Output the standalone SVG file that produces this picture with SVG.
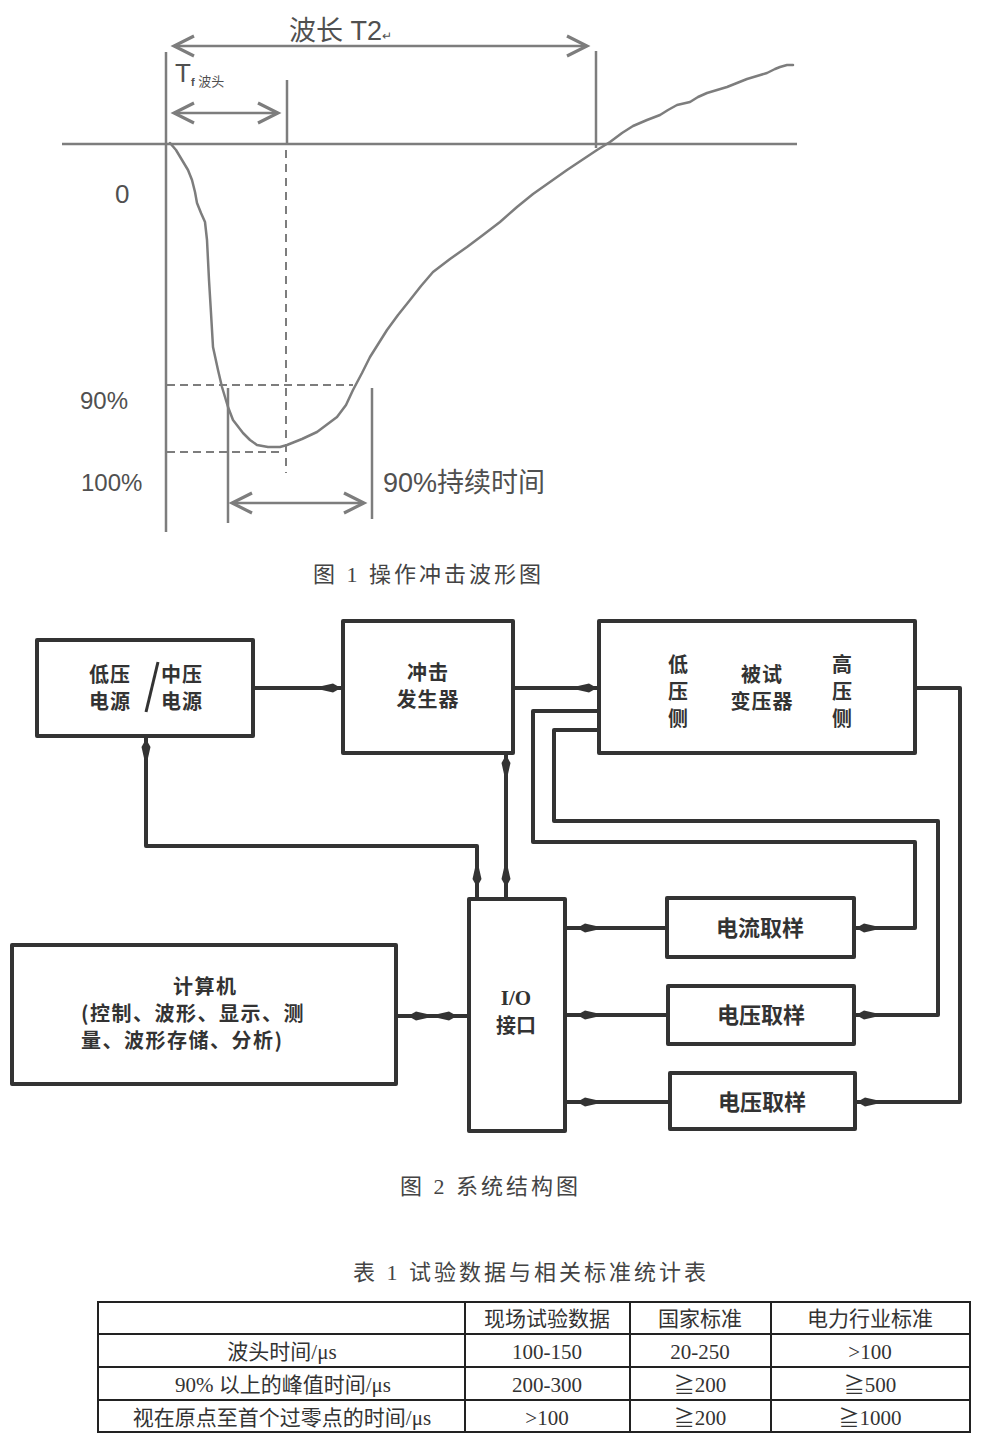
<svg xmlns="http://www.w3.org/2000/svg" width="984" height="1446" viewBox="0 0 984 1446">
<defs>
<style>
.g{stroke:#7d7d7d;stroke-width:2.5;fill:none}
.gd{stroke:#7d7d7d;stroke-width:2;fill:none;stroke-dasharray:8 5}
.wt{font-family:"Liberation Sans","Noto Sans CJK SC",sans-serif;fill:#505050}
.cap{font-family:"Liberation Serif","Noto Sans CJK SC",serif;font-size:22px;fill:#444;letter-spacing:3px}
.box{fill:#fff;stroke:#333;stroke-width:4;stroke-linejoin:round}
.bt{font-family:"Noto Sans CJK SC",sans-serif;font-weight:bold;font-size:20px;fill:#333;text-anchor:middle}
.bs{font-family:"Noto Sans CJK SC",sans-serif;font-weight:bold;font-size:22px;fill:#333;text-anchor:middle}
.bl{font-family:"Noto Sans CJK SC",sans-serif;font-weight:bold;font-size:20px;fill:#333;text-anchor:start;letter-spacing:1.5px}
.w{fill:none;stroke:#333;stroke-width:4;stroke-linejoin:round}
.tb{stroke:#222;stroke-width:2;fill:none}
.tt{font-family:"Liberation Serif","Noto Sans CJK SC",serif;font-size:21px;fill:#333;text-anchor:middle}
</style>
<marker id="c" markerUnits="userSpaceOnUse" markerWidth="30" markerHeight="30" viewBox="-20 -10 24 20" refX="0" refY="0" orient="auto-start-reverse">
<path d="M-16,-8 L0,0 L-16,8" fill="none" stroke="#7d7d7d" stroke-width="2.5"/>
</marker>
<marker id="a" markerUnits="userSpaceOnUse" markerWidth="40" markerHeight="20" viewBox="-40 -10 40 20" refX="0" refY="0" orient="auto-start-reverse">
<path d="M-2,0 L-10,-4.5 L-21,-2 L-21,2 L-10,4.5 Z" fill="#333"/>
</marker>
<marker id="b" markerUnits="userSpaceOnUse" markerWidth="50" markerHeight="20" viewBox="-50 -10 50 20" refX="0" refY="0" orient="auto-start-reverse">
<path d="M-12,0 L-20,-4.5 L-31,-2 L-31,2 L-20,4.5 Z" fill="#333"/>
</marker>
</defs>

<g id="waveform">
<line class="g" x1="62" y1="144" x2="797" y2="144"/>
<line class="g" x1="166" y1="52" x2="166" y2="532"/>
<line class="g" x1="596" y1="51" x2="596" y2="148"/>
<line class="g" x1="287" y1="80" x2="287" y2="145"/>
<line class="g" x1="174" y1="46" x2="587" y2="46" marker-start="url(#c)" marker-end="url(#c)"/>
<line class="g" x1="174" y1="113" x2="278" y2="113" marker-start="url(#c)" marker-end="url(#c)"/>
<line class="gd" x1="286" y1="150" x2="286" y2="473" style="stroke-dasharray:8 6"/>
<line class="gd" x1="167" y1="385" x2="353" y2="385"/>
<line class="gd" x1="167" y1="452" x2="283" y2="452"/>
<line class="g" x1="228" y1="388" x2="228" y2="523"/>
<line class="g" x1="372" y1="388" x2="372" y2="519"/>
<line class="g" x1="232" y1="503" x2="364" y2="503" marker-start="url(#c)" marker-end="url(#c)"/>
<polyline class="g" stroke-linejoin="round" stroke-linecap="round" points="170,143 176,150 182,160 188,170 192,180 195,192 197,203 201,213 205,222 207,240 208,260 209,280 211,313 213,347 218,370 222,387 228,407 233,420 243,433 250,440 257,445 268,447 280,447 287,445 302,439 317,432 337,417 346,405 353,390 362,373 370,357 387,330 398,315 410,300 421,286 433,272 450,259 467,247 483,235 500,222 517,207 533,194 550,182 567,170 582,160 597,150 610,142 622,133 633,126 647,120 660,115 668,110 677,105 690,102 698,97 707,93 717,90 727,87 737,83 747,79 757,76 767,73 775,69 780,67 787,65 793,65"/>
<text class="wt" x="289" y="40" font-size="27" font-family="'Liberation Serif','Noto Sans CJK SC',serif">波长 T2<tspan font-size="12">↵</tspan></text>
<text class="wt" x="175" y="82" font-size="26" font-family="'Liberation Serif',serif">T</text>
<text class="wt" x="191" y="86" font-size="13" font-family="'Noto Sans CJK SC',sans-serif"><tspan font-weight="bold" font-size="11">f</tspan> 波头</text>
<text class="wt" x="115" y="203" font-size="26">0</text>
<text class="wt" x="80" y="409" font-size="24">90%</text>
<text class="wt" x="81" y="491" font-size="24">100%</text>
<text class="wt" x="383" y="492" font-size="27">90%持续时间</text>
<text class="cap" x="313" y="582">图 1 操作冲击波形图</text>
</g>

<g id="connectors">
<path class="w" d="M253,688 H343" marker-end="url(#a)"/>
<path class="w" d="M513,688 H599" marker-end="url(#a)"/>
<path class="w" d="M915,688 H960 V1102 H855" marker-end="url(#a)"/>
<path class="w" d="M599,711 H533 V842 H915 V928 H854" marker-end="url(#a)"/>
<path class="w" d="M599,730 H554 V821 H938 V1015 H854" marker-end="url(#a)"/>
<path class="w" d="M667,928 H565" marker-end="url(#b)"/>
<path class="w" d="M668,1015 H565" marker-end="url(#b)"/>
<path class="w" d="M670,1102 H565" marker-end="url(#b)"/>
<path class="w" d="M146,737 V846 H477 V899" marker-start="url(#a)" marker-end="url(#b)"/>
<path class="w" d="M506,753 V899" marker-start="url(#a)" marker-end="url(#b)"/>
<path class="w" d="M396,1016 H469" marker-start="url(#b)" marker-end="url(#b)"/>
</g>

<g id="power">
<rect class="box" x="37" y="640" width="216" height="96"/>
<text class="bt" style="letter-spacing:1px"><tspan x="110" y="682">低压</tspan><tspan x="110" y="709">电源</tspan></text>
<text class="bt" style="letter-spacing:1px"><tspan x="182" y="682">中压</tspan><tspan x="182" y="709">电源</tspan></text>
<line x1="158" y1="662" x2="146" y2="712" stroke="#333" stroke-width="3"/>
</g>
<g id="generator">
<rect class="box" x="343" y="621" width="170" height="132"/>
<text class="bt" style="letter-spacing:1px"><tspan x="428" y="680">冲击</tspan><tspan x="428" y="707">发生器</tspan></text>
</g>
<g id="transformer">
<rect class="box" x="599" y="621" width="316" height="132"/>
<text class="bt"><tspan x="678" y="672">低</tspan><tspan x="678" y="699">压</tspan><tspan x="678" y="726">侧</tspan></text>
<text class="bt" style="letter-spacing:1px"><tspan x="762" y="682">被试</tspan><tspan x="762" y="709">变压器</tspan></text>
<text class="bt"><tspan x="842" y="672">高</tspan><tspan x="842" y="699">压</tspan><tspan x="842" y="726">侧</tspan></text>
</g>
<g id="io">
<rect class="box" x="469" y="899" width="96" height="232"/>
<text class="bt"><tspan x="516" y="1005" style="font-family:'Liberation Serif',serif;font-size:21px">I/O</tspan><tspan x="516" y="1033">接口</tspan></text>
</g>
<g id="computer">
<rect class="box" x="12" y="945" width="384" height="139"/>
<text class="bl"><tspan x="173" y="994">计算机</tspan><tspan x="81" y="1021">(控制、波形、显示、测</tspan><tspan x="81" y="1048">量、波形存储、分析)</tspan></text>
</g>
<g id="current-sample">
<rect class="box" x="667" y="898" width="187" height="59"/>
<text class="bs" x="760" y="936">电流取样</text>
</g>
<g id="voltage-sample-1">
<rect class="box" x="668" y="986" width="186" height="58"/>
<text class="bs" x="761" y="1023">电压取样</text>
</g>
<g id="voltage-sample-2">
<rect class="box" x="670" y="1073" width="185" height="56"/>
<text class="bs" x="762" y="1110">电压取样</text>
</g>
<text class="cap" x="400" y="1194">图 2 系统结构图</text>

<g id="table">
<text class="cap" x="353" y="1280" font-size="23">表 1 试验数据与相关标准统计表</text>
<rect class="tb" x="98" y="1302" width="872" height="130"/>
<line class="tb" x1="98" y1="1334" x2="970" y2="1334"/>
<line class="tb" x1="98" y1="1367" x2="970" y2="1367"/>
<line class="tb" x1="98" y1="1400" x2="970" y2="1400"/>
<line class="tb" x1="465" y1="1302" x2="465" y2="1432"/>
<line class="tb" x1="630" y1="1302" x2="630" y2="1432"/>
<line class="tb" x1="771" y1="1302" x2="771" y2="1432"/>
<text class="tt" x="547" y="1326">现场试验数据</text>
<text class="tt" x="700" y="1326">国家标准</text>
<text class="tt" x="870" y="1326">电力行业标准</text>
<text class="tt" x="282" y="1359">波头时间/μs</text>
<text class="tt" x="547" y="1359">100-150</text>
<text class="tt" x="700" y="1359">20-250</text>
<text class="tt" x="870" y="1359">&gt;100</text>
<text class="tt" x="283" y="1392">90% 以上的峰值时间/μs</text>
<text class="tt" x="547" y="1392">200-300</text>
<text class="tt" x="700" y="1392">≧200</text>
<text class="tt" x="870" y="1392">≧500</text>
<text class="tt" x="282" y="1425">视在原点至首个过零点的时间/μs</text>
<text class="tt" x="547" y="1425">&gt;100</text>
<text class="tt" x="700" y="1425">≧200</text>
<text class="tt" x="870" y="1425">≧1000</text>
</g>
</svg>
